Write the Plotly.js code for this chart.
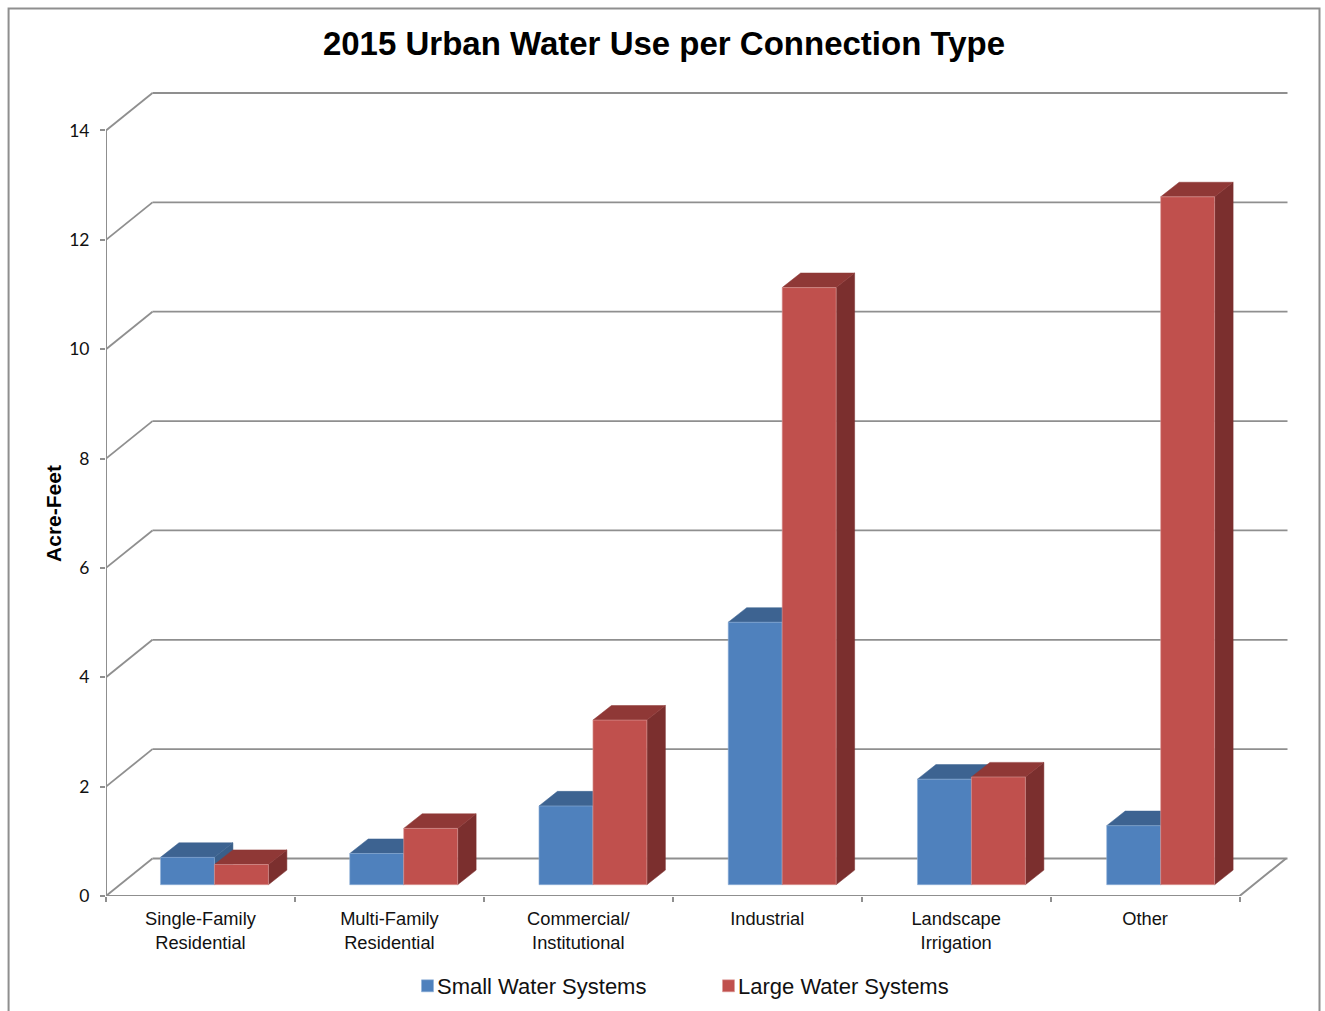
<!DOCTYPE html>
<html>
<head>
<meta charset="utf-8">
<script src="https://cdn.plot.ly/plotly-3.0.1.min.js"></script>
<style>html,body{margin:0;padding:0;background:#fff;overflow:hidden}#chart{width:1325px;height:1011px}</style>
</head>
<body>
<div id="chart"></div>
<script>
const categories = ["Single-Family<br>Residential","Multi-Family<br>Residential","Commercial/<br>Institutional","Industrial","Landscape<br>Irrigation","Other"];
const smallSystems = [0.50,0.57,1.44,4.80,1.93,1.08];
const largeSystems = [0.37,1.03,3.01,10.92,1.97,12.58];
const yTicks = [0,2,4,6,8,10,12,14];
const seriesNames = ["Small Water Systems","Large Water Systems"];

// pseudo-3D geometry, in axis units
const W = 1325, H = 1011;
const pxX = 189.08, pxY = 54.71;          // pixels per axis unit
const left = 105.5, bottom = 896;         // pixel position of the front origin
const wallDX = 46.5/pxX, wallDY = 37.5/pxY;   // depth of the floor/wall
const barDX = 18.5/pxX, barDY = 14.6/pxY;     // depth of a bar
const barW = 54/pxX;                      // width of a bar
const liftX = 14/pxX, liftY = 11.3/pxY;   // bars stand forward on the floor
const barStep = 189.4/pxX;                // cluster spacing on the bar plane
const xMax = 6 + wallDX + 3/pxX, yMax = 14 + wallDY + 2/pxY;

const gridCol = "#8f8f8f";
const cols = {
  small:{front:"#4F81BD",top:"#3D6391",side:"#3A5F8A",edge:"#8FB0D8"},
  large:{front:"#C0504D",top:"#8F3836",side:"#7B2F2E",edge:"#DC9C9A"}
};

const idx = categories.map((_,i)=>i);
const clusterX = i => 0.5+liftX+i*barStep;
const poly = pts => "M"+pts.map(p=>p[0]+","+p[1]).join("L")+"Z";
const shapes = [];
const dataShape = (path,fill,lineCol,lw) => shapes.push({type:"path",xref:"x",yref:"y",layer:"below",path,
  fillcolor:fill,line:{color:lineCol||fill,width:lw===undefined?0.5:lw}});

// back wall gridlines and slanted side-wall lines
yTicks.forEach(t=>{
  shapes.push({type:"line",xref:"x",yref:"y",layer:"below",x0:0,y0:t,x1:wallDX,y1:t+wallDY,line:{color:gridCol,width:1.8}});
  shapes.push({type:"line",xref:"x",yref:"y",layer:"below",x0:wallDX,y0:t+wallDY,x1:6+wallDX+1.5/pxX,y1:t+wallDY,line:{color:gridCol,width:1.8}});
});

// bar tops and sides
function addBar(x0,val,c){
  const x1=x0+barW, y0=liftY, y1=liftY+val;
  dataShape(poly([[x1,y0],[x1+barDX,y0+barDY],[x1+barDX,y1+barDY],[x1,y1]]),c.side);
  dataShape(poly([[x0,y1],[x0+barDX,y1+barDY],[x1+barDX,y1+barDY],[x1,y1]]),c.top);
}
idx.forEach(i=>{
  const c=clusterX(i);
  addBar(c-barW,smallSystems[i],cols.small);
  addBar(c,largeSystems[i],cols.large);
});

// outer frame (open at the bottom)
const plotW = xMax*pxX, plotH = yMax*pxY;
const fx = px => (px-left)/plotW, fy = py => (bottom-py)/plotH;
shapes.push({type:"path",xref:"paper",yref:"paper",layer:"below",
  path:`M${fx(8)},${fy(1011)}L${fx(8)},${fy(8)}L${fx(1320)},${fy(8)}L${fx(1320)},${fy(1011)}`,
  line:{color:"#8f8f8f",width:2}});

const mkBar = (name,vals,off,c) => ({
  type:"bar",name,
  x:idx.map(i=>clusterX(i)+off),
  y:vals,
  base:vals.map(()=>liftY),
  width:barW,
  marker:{color:c.front,line:{color:c.edge,width:0.6}},
  hoverinfo:"name+y"
});

const frame = {
  type:"scatter",mode:"lines",showlegend:false,hoverinfo:"skip",cliponaxis:false,
  x:[0,0,6,6+wallDX],
  y:[14,0,0,wallDY],
  line:{color:gridCol,width:2}
};

const traces=[
  mkBar(seriesNames[0],smallSystems,-barW/2,cols.small),
  mkBar(seriesNames[1],largeSystems,barW/2,cols.large),
  frame
];

const layout={
  width:W,height:H,autosize:false,
  paper_bgcolor:"#fff",plot_bgcolor:"rgba(0,0,0,0)",
  margin:{l:left,r:W-left-plotW,t:bottom-plotH,b:H-bottom,pad:0},
  barmode:"overlay",
  font:{family:"'Liberation Sans',Arial,sans-serif",color:"#111"},
  title:{text:"2015 Urban Water Use per Connection Type",
    font:{size:33,family:"'Liberation Sans',Arial,sans-serif",weight:700,color:"#000"},
    x:664/W,xanchor:"center",xref:"container",y:1-43/H,yanchor:"middle"},
  xaxis:{type:"linear",range:[0,xMax],tickmode:"array",
    tickvals:idx.map(i=>i+0.5),ticktext:categories,ticks:"",
    tickfont:{size:18.3,color:"#111"},showgrid:false,zeroline:false,showline:false,ticklabelstandoff:10,
    minor:{tickmode:"array",tickvals:[0,1,2,3,4,5,6],ticks:"outside",ticklen:5,tickcolor:gridCol,tickwidth:1.5,showgrid:false}},
  yaxis:{range:[0,yMax],tickmode:"array",tickvals:yTicks,ticks:"outside",ticklen:5,tickcolor:gridCol,tickwidth:1.5,
    tickfont:{size:17.5,family:"Lato,sans-serif",color:"#111"},showgrid:false,zeroline:false,showline:false,ticklabelstandoff:7,
    title:{text:"<b>Acre-Feet</b>",font:{size:21,color:"#000"},standoff:10}},
  legend:{orientation:"h",xref:"container",yref:"container",x:397/W,xanchor:"left",y:(H-1007)/H,yanchor:"bottom",
    font:{size:22,color:"#111"},entrywidth:256,entrywidthmode:"pixels",bgcolor:"rgba(0,0,0,0)",traceorder:"normal"},
  shapes
};
Plotly.newPlot("chart",traces,layout,{displayModeBar:false,responsive:false}).then(gd=>{
  gd.querySelectorAll(".legend .legendsymbols").forEach(el=>el.setAttribute("transform","translate(10.5,0)"));
  const yt=gd.querySelector(".ytitle");
  if(yt) yt.setAttribute("transform","translate(9,20) "+(yt.getAttribute("transform")||""));
});
</script>
</body>
</html>
